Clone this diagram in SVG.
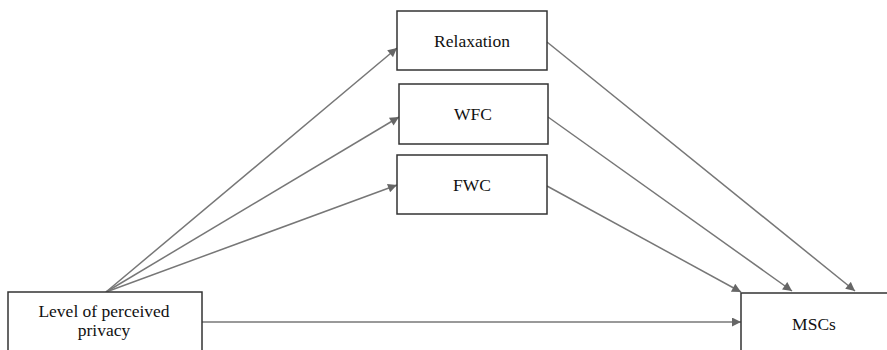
<svg xmlns="http://www.w3.org/2000/svg" width="887" height="350" viewBox="0 0 887 350">
<style>
.box{fill:#fff;stroke:#333;stroke-width:1.5}
.lbl{font-family:"Liberation Serif","Times New Roman",serif;font-size:17.5px;fill:#111;text-anchor:middle}
.conn{stroke:#777;stroke-width:1.5;fill:none;marker-end:url(#ah)}
</style>
<defs>
<marker id="ah" viewBox="0 0 10 10" refX="10" refY="5" markerWidth="11" markerHeight="9" markerUnits="userSpaceOnUse" orient="auto">
<path d="M0,0 L10,5 L0,10 z" fill="#666"/>
</marker>
</defs>
<rect width="887" height="350" fill="#fff"/>
<g id="connectors">
<line class="conn" x1="106" y1="292" x2="397" y2="48"/>
<line class="conn" x1="106" y1="292" x2="399" y2="117"/>
<line class="conn" x1="106" y1="292" x2="397" y2="185"/>
<line class="conn" x1="547" y1="42" x2="855" y2="291"/>
<line class="conn" x1="548" y1="117" x2="792" y2="291"/>
<line class="conn" x1="547" y1="186" x2="741" y2="292"/>
<line class="conn" x1="202" y1="322" x2="741" y2="322"/>
</g>
<g id="relaxation">
<rect class="box" x="397" y="11" width="150" height="59"/>
<text class="lbl" x="472" y="47">Relaxation</text>
</g>
<g id="wfc">
<rect class="box" x="399" y="84" width="149" height="60"/>
<text class="lbl" x="473" y="120">WFC</text>
</g>
<g id="fwc">
<rect class="box" x="397" y="155" width="150" height="59"/>
<text class="lbl" x="472" y="191">FWC</text>
</g>
<g id="privacy">
<rect class="box" x="8" y="292" width="194" height="70"/>
<text class="lbl" x="104" y="317">Level of perceived</text>
<text class="lbl" x="104" y="336">privacy</text>
</g>
<g id="mscs">
<rect class="box" x="741" y="293" width="160" height="70"/>
<text class="lbl" x="814" y="330">MSCs</text>
</g>
</svg>
